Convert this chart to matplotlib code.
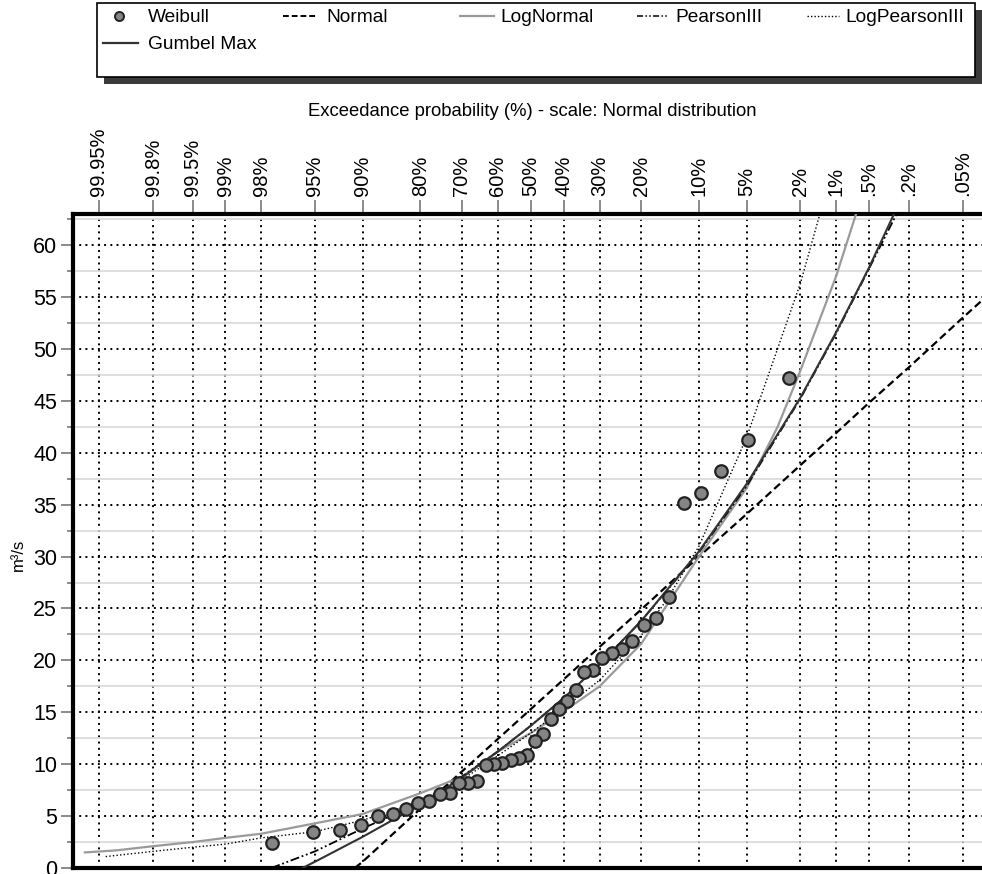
import matplotlib
matplotlib.use("Agg")
import matplotlib.pyplot as plt
import numpy as np
from statistics import NormalDist
from matplotlib import font_manager
from matplotlib.lines import Line2D
from matplotlib.patches import Rectangle

_names = {f.name for f in font_manager.fontManager.ttflist}
NARROW = 'Liberation Sans Narrow' in _names
plt.rcParams['font.family'] = ['Liberation Sans Narrow' if NARROW else 'Liberation Sans',
                               'DejaVu Sans']

# exceedance probability (%) / discharge (m3/s)
weibull_p = [2.44, 4.88, 7.32, 9.76, 12.20, 14.63, 17.07, 19.51, 21.95, 24.39,
             26.83, 29.27, 31.71, 34.15, 36.59, 39.02, 41.46, 43.90, 46.34, 48.78,
             51.22, 53.66, 56.10, 58.54, 60.98, 63.41, 65.85, 68.29, 70.73, 73.17,
             75.61, 78.05, 80.49, 82.93, 85.37, 87.80, 90.24, 92.68, 95.12, 97.56]
weibull_q = [47.2, 41.2, 38.2, 36.1, 35.2, 26.1, 24.1, 23.4, 21.9, 21.1,
             20.7, 20.2, 19.1, 18.9, 17.1, 16.1, 15.3, 14.4, 12.9, 12.2,
             10.9, 10.6, 10.4, 10.1, 10.0, 9.9, 8.4, 8.2, 8.2, 7.2,
             7.1, 6.5, 6.3, 5.7, 5.2, 5.0, 4.1, 3.7, 3.5, 2.4]

normal_p = [91.0, 90, 80, 70, 60, 50, 40, 30, 20, 10, 5, 2, 1, 0.5, 0.2, 0.05, 0.03]
normal_q = [0.0, 0.6, 5.7, 9.3, 12.4, 15.3, 18.2, 21.3, 24.9, 30.0, 34.1, 38.8,
            41.9, 44.8, 48.2, 53.0, 54.6]

lognormal_p = [99.966, 99.92, 99.8, 99.5, 99, 98, 95, 90, 80, 70, 60, 50, 40, 30,
               20, 10, 5, 3, 2, 1, 0.66]
lognormal_q = [1.5, 1.7, 2.1, 2.5, 2.9, 3.3, 4.3, 5.2, 7.2, 8.8, 11.2, 13.0, 15.1,
               17.5, 21.6, 30.0, 36.6, 42.5, 47.9, 57.0, 63.0]

pearson_p = [97.6, 95, 90, 80, 70, 60, 50, 40, 30, 20, 10, 5, 2, 1, 0.5, 0.25]
pearson_q = [0.0, 1.6, 3.8, 6.3, 8.8, 11.2, 13.7, 16.4, 19.6, 23.8, 30.4, 36.8,
             45.2, 51.5, 57.7, 63.5]

logpearson_p = [99.94, 99.8, 99.5, 99, 98, 95, 90, 80, 70, 60, 50, 40, 30, 20,
                14.8, 10, 5, 2, 1.38]
logpearson_q = [1.1, 1.6, 2.0, 2.3, 2.9, 3.5, 4.6, 6.4, 8.5, 10.8, 13.0, 15.4,
                18.1, 22.4, 26.0, 31.0, 41.5, 56.3, 63.0]

gumbel_p = [95.9, 95, 90, 80, 70, 60, 50, 40, 30, 20, 10, 5, 2, 1, 0.5, 0.2]
gumbel_q = [0.0, 0.6, 3.0, 6.1, 8.7, 11.2, 13.7, 16.4, 19.6, 23.8, 30.5, 37.0,
            45.3, 51.6, 57.8, 66.0]

tick_p = [99.95, 99.8, 99.5, 99, 98, 95, 90, 80, 70, 60, 50, 40, 30, 20, 10, 5,
          2, 1, 0.5, 0.2, 0.05]
tick_labels = ["99.95%", "99.8%", "99.5%", "99%", "98%", "95%", "90%", "80%",
               "70%", "60%", "50%", "40%", "30%", "20%", "10%", "5%", "2%", "1%",
               ".5%", ".2%", ".05%"]

_nd = NormalDist()
_fwd = np.vectorize(lambda v: _nd.inv_cdf(v / 100.0), otypes=[float])
_inv = np.vectorize(lambda v: 100.0 * _nd.cdf(v), otypes=[float])


def prob_forward(p):
    # normal probability paper: exceedance % -> standard normal quantile
    p = np.clip(np.asarray(p, dtype=float), 1e-7, 100 - 1e-7)
    return _fwd(p)


def prob_inverse(z):
    return _inv(np.asarray(z, dtype=float))


W, H = 982, 874
fig = plt.figure(figsize=(W / 100, H / 100), dpi=100)
ax = fig.add_axes([72.5 / W, 1 - 868 / H, 1 - 72.5 / W, (868 - 214) / H])

ax.set_xscale('function', functions=(prob_forward, prob_inverse))
ax.set_xlim(99.976, 0.0293)
ax.set_ylim(0, 63)

ax.set_xticks(tick_p)
ax.set_xticklabels(tick_labels, rotation=90)
ax.xaxis.tick_top()
ax.xaxis.set_minor_locator(matplotlib.ticker.NullLocator())
ax.set_yticks(np.arange(0, 61, 5))
ax.set_yticks(np.arange(2.5, 63, 5), minor=True)

ax.grid(which='major', axis='both', color='black', linestyle=(0, (1, 2.2)), lw=1.4)
ax.grid(which='minor', axis='y', color='#d8d8d8', linestyle='-', lw=1.2)
ax.set_axisbelow(True)

ax.tick_params(axis='x', which='major', top=True, bottom=False, length=10,
               width=1.2, color='#777777', labelsize=15 if NARROW else 14.5, pad=3)
ax.tick_params(axis='y', which='major', length=9, width=1.2, color='#777777',
               labelsize=16 if NARROW else 15.5, pad=2)
ax.tick_params(axis='y', which='minor', length=4, width=1.2, color='#777777')

for side in ['left', 'top', 'bottom']:
    ax.spines[side].set_linewidth(3)
ax.spines['right'].set_visible(False)

ax.plot(normal_p, normal_q, color='black', lw=1.6, ls=(0, (3.5, 1.8)), zorder=3)
ax.plot(lognormal_p, lognormal_q, color='#9a9a9a', lw=1.6, zorder=3)
ax.plot(pearson_p, pearson_q, color='black', lw=1.3,
        ls=(0, (5, 1.5, 1, 1.5, 1, 1.5)), zorder=3)
ax.plot(logpearson_p, logpearson_q, color='black', lw=1.0, ls=(0, (1, 1.6)), zorder=3)
ax.plot(gumbel_p, gumbel_q, color='#333333', lw=1.5, zorder=3)
ax.plot(weibull_p, weibull_q, 'o', ms=9, mfc='#858585', mec='#222222', mew=1.6,
        zorder=5, clip_on=False)

fig.text(532 / W, 1 - 112 / H, 'Exceedance probability (%) - scale: Normal distribution',
         ha='center', va='center', fontsize=13.3)
fig.text(18 / W, 1 - 555 / H, 'm³/s', rotation=90, ha='center', va='center',
         fontsize=12)

# legend box drawn in pixel coordinates
lg = fig.add_axes([0, 0, 1, 1])
lg.set_xlim(0, W)
lg.set_ylim(H, 0)
lg.axis('off')
lg.add_patch(Rectangle((104, 10), 878, 74, facecolor='#3a3a3a', edgecolor='none'))
lg.add_patch(Rectangle((97, 3), 878, 74, facecolor='white', edgecolor='black', lw=1.2))

row1, row2 = 16, 43
lg.add_line(Line2D([119], [row1], marker='o', ms=6.5, mfc='#858585', mec='#222222',
                   mew=1.4, ls='none'))
lg.add_line(Line2D([283, 318], [row1, row1], color='black', lw=1.4, ls=(0, (3, 1.5))))
lg.add_line(Line2D([460, 494], [row1, row1], color='#9a9a9a', lw=1.6))
lg.add_line(Line2D([637, 669], [row1, row1], color='black', lw=1.1,
                   ls=(0, (4, 1.5, 1, 1.5, 1, 1.5))))
lg.add_line(Line2D([807, 839], [row1, row1], color='black', lw=1.0, ls=(0, (1, 1.5))))
lg.add_line(Line2D([103, 138], [row2, row2], color='#333333', lw=1.6))

legend_items = [(148, row1, 'Weibull'), (326, row1, 'Normal'), (500, row1, 'LogNormal'),
                (675, row1, 'PearsonIII'), (845, row1, 'LogPearsonIII'),
                (148, row2, 'Gumbel Max')]
for x, y, s in legend_items:
    lg.text(x, y + 1.5, s, ha='left', va='center', fontsize=16.5 if NARROW else 13.8)

fig.savefig('out.png', dpi=100)
